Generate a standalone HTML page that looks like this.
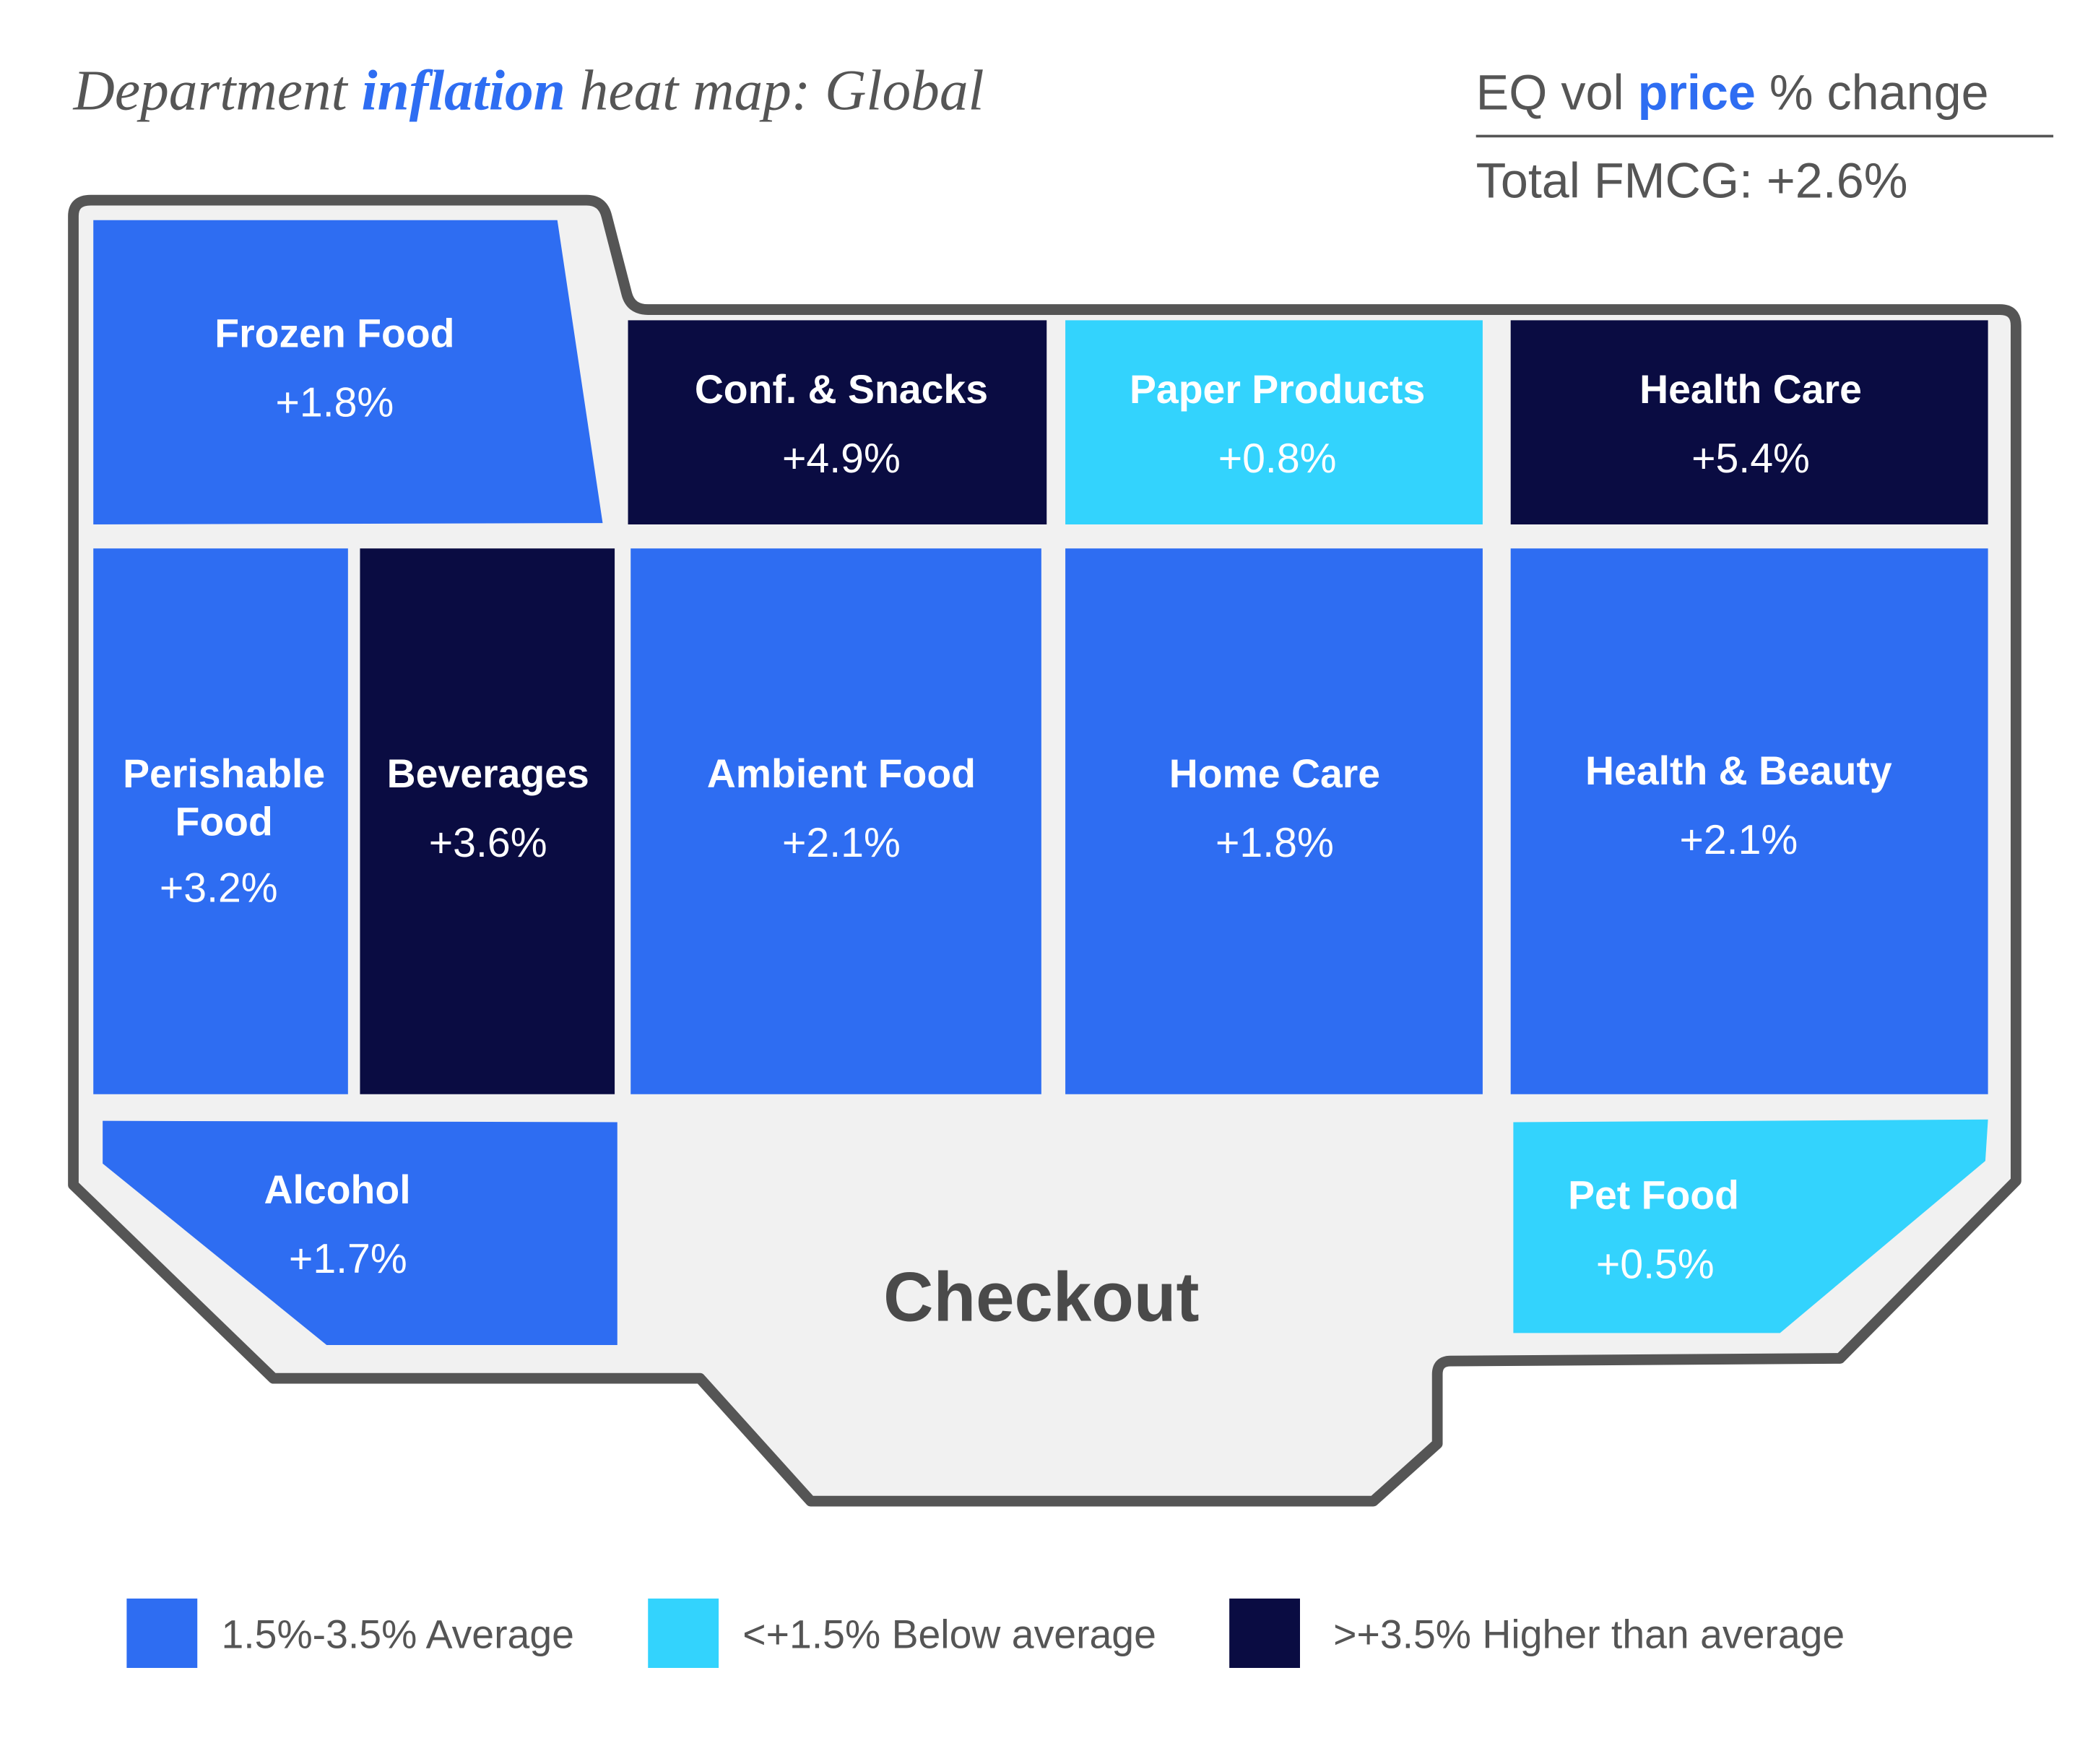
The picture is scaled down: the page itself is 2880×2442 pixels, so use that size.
<!DOCTYPE html>
<html><head><meta charset="utf-8"><style>
html,body{margin:0;padding:0;background:#fff}
svg{display:block}
text{font-family:"Liberation Sans",sans-serif}
</style></head><body>
<svg id="chart" width="2880" height="2442" viewBox="0 0 1560 1322" preserveAspectRatio="none" xmlns="http://www.w3.org/2000/svg">
<text x="55" y="82" font-style="italic" font-size="43" fill="#555" style="font-family:'Liberation Serif',serif">Department <tspan font-weight="bold" fill="#2e6df2">inflation</tspan> heat map: Global</text>
<text x="1107" y="82" font-size="37" fill="#555">EQ vol <tspan font-weight="bold" fill="#2e6df2">price</tspan> % change</text>
<line x1="1107" y1="102" x2="1540" y2="102" stroke="#555" stroke-width="2"/>
<text x="1107" y="148" font-size="37" fill="#555">Total FMCG: +2.6%</text>
<path d="M68,150 L440,150 Q452,150 455,162 L470,220 Q473,232 486,232 L1500,232 Q1512,232 1512,244 L1512,885 L1380,1018 L1088,1020 Q1078,1020 1078,1030 L1078,1082 L1030,1125 L608,1125 L525,1033 L205,1033 L55,888 L55,162 Q55,150 68,150 Z" fill="#f1f1f1" stroke="#555" stroke-width="8" stroke-linejoin="round"/>
<g id="cells"></g>
<text x="781" y="990" text-anchor="middle" font-size="52" font-weight="bold" fill="#4a4a4a">Checkout</text>
<g id="legend"></g>
</svg>
<script>
const departments = ["Frozen Food","Conf. & Snacks","Paper Products","Health Care","Perishable|Food","Beverages","Ambient Food","Home Care","Health & Beauty","Alcohol","Pet Food"];
const values = [1.8, 4.9, 0.8, 5.4, 3.2, 3.6, 2.1, 1.8, 2.1, 1.7, 0.5];
const legendLabels = ["1.5%-3.5% Average","<+1.5% Below average",">+3.5% Higher than average"];
const COLORS = {avg:"#2e6df2", low:"#33d3fd", high:"#0a0c42"};
const shapes = [
  {pts:[[70,165],[418,165],[452,392],[70,393]], tx:251, ty:260},
  {pts:[[471,240],[785,240],[785,393],[471,393]], tx:631, ty:302},
  {pts:[[799,240],[1112,240],[1112,393],[799,393]], tx:958, ty:302},
  {pts:[[1133,240],[1491,240],[1491,393],[1133,393]], tx:1313, ty:302},
  {pts:[[70,411],[261,411],[261,820],[70,820]], tx:168, ty:590},
  {pts:[[270,411],[461,411],[461,820],[270,820]], tx:366, ty:590},
  {pts:[[473,411],[781,411],[781,820],[473,820]], tx:631, ty:590},
  {pts:[[799,411],[1112,411],[1112,820],[799,820]], tx:956, ty:590},
  {pts:[[1133,411],[1491,411],[1491,820],[1133,820]], tx:1304, ty:588},
  {pts:[[77,840],[463,841],[463,1008],[245,1008],[77,872]], tx:253, ty:902},
  {pts:[[1135,841],[1491,839],[1489,870],[1335,999],[1135,999]], tx:1240, ty:906}
];
function colorFor(v){ return v < 1.5 ? COLORS.low : (v > 3.5 ? COLORS.high : COLORS.avg); }
const NS="http://www.w3.org/2000/svg";
const g=document.getElementById('cells');
departments.forEach((name,i)=>{
  const s=shapes[i];
  const p=document.createElementNS(NS,'polygon');
  p.setAttribute('points',s.pts.map(q=>q.join(',')).join(' '));
  p.setAttribute('fill',colorFor(values[i]));
  
  
  g.appendChild(p);
  const lines=name.split('|');
  let y=s.ty;
  const anchorX = (i===10)? 1176 : s.tx;
  const anchor = (i===10)? 'start' : 'middle';
  lines.forEach((ln,k)=>{
    const t=document.createElementNS(NS,'text');
    t.setAttribute('x',anchorX); t.setAttribute('y',y+k*36);
    t.setAttribute('text-anchor',anchor);
    t.setAttribute('font-size','30'); t.setAttribute('font-weight','bold'); t.setAttribute('fill','#fff');
    t.textContent=ln;
    
    
    g.appendChild(t);
  });
  const v=document.createElementNS(NS,'text');
  const vx = (i===10)? 1197 : (i===4? 164 : (i===9? 261 : s.tx));
  v.setAttribute('x',vx); v.setAttribute('y',y+(lines.length-1)*36+52 - (lines.length>1?2:0));
  v.setAttribute('text-anchor',anchor);
  v.setAttribute('font-size','31'); v.setAttribute('fill','#fff');
  v.textContent='+'+values[i].toFixed(1)+'%';
  
  
  g.appendChild(v);
});
const lg=document.getElementById('legend');
const legendColors=[COLORS.avg,COLORS.low,COLORS.high];
const legendX=[95,486,922];
legendLabels.forEach((lab,i)=>{
  const r=document.createElementNS(NS,'rect');
  r.setAttribute('x',legendX[i]); r.setAttribute('y',1198); r.setAttribute('width',53); r.setAttribute('height',52);
  r.setAttribute('fill',legendColors[i]);
  
  
  lg.appendChild(r);
  const t=document.createElementNS(NS,'text');
  t.setAttribute('x',legendX[i]+71+(i===2?7:0)); t.setAttribute('y',1235);
  t.setAttribute('font-size','30'); t.setAttribute('fill','#555');
  t.textContent=lab;
  
  
  lg.appendChild(t);
});
</script>
</body></html>
